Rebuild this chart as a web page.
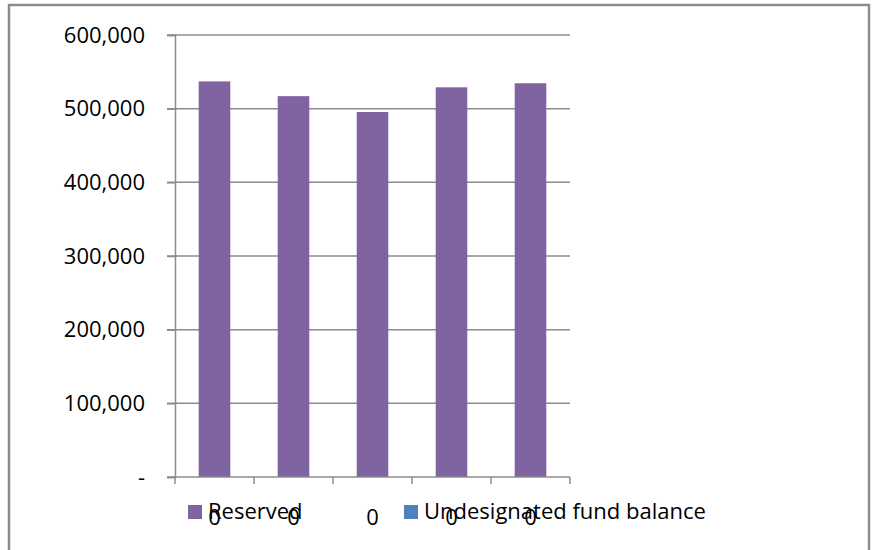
<!DOCTYPE html>
<html>
<head>
<meta charset="utf-8">
<script src="https://cdn.jsdelivr.net/npm/d3@7"></script>
<style>
  body { margin: 0; background: #fff; }
  text { font-family: "Open Sans", "Noto Sans", sans-serif; fill: #000; }
</style>
</head>
<body>
<div id="chart"></div>
<script>
// Data
const categories = ["0", "0", "0", "0", "0"];
const reserved = [537000, 517000, 495500, 529000, 534500];
const yTicks = [0, 100000, 200000, 300000, 400000, 500000, 600000];
const legendItems = ["Reserved", "Undesignated fund balance"];
const legendColors = ["#8064a2", "#4f81bd"];

const width = 874;
const height = 550;
const margin = { top: 35, bottom: 73, left: 175, right: 304 };

const svg = d3
  .select("#chart")
  .append("svg")
  .attr("width", width)
  .attr("height", height);

// outer frame
svg
  .append("rect")
  .attr("x", 9)
  .attr("y", 5)
  .attr("width", 860)
  .attr("height", 560)
  .attr("fill", "none")
  .attr("stroke", "#8c8c8c")
  .attr("stroke-width", 2.5);

const xScale = d3
  .scaleBand()
  .domain(d3.range(categories.length))
  .range([margin.left, width - margin.right])
  .paddingInner(0.6)
  .paddingOuter(0.3);

const yScale = d3
  .scaleLinear()
  .domain([0, 600000])
  .range([height - margin.bottom, margin.top]);

// gridlines
svg
  .append("g")
  .selectAll("line")
  .data(yTicks.slice(1))
  .enter()
  .append("line")
  .attr("x1", margin.left - 8)
  .attr("x2", width - margin.right)
  .attr("y1", (d) => yScale(d))
  .attr("y2", (d) => yScale(d))
  .attr("stroke", "#8c8c8c")
  .attr("stroke-width", 1.5);

// y axis
const yAxis = svg
  .append("g")
  .attr("transform", `translate(${margin.left}, 0)`)
  .call(
    d3
      .axisLeft(yScale)
      .tickValues(yTicks)
      .tickSize(8)
      .tickPadding(22)
      .tickFormat((d) => (d === 0 ? "-" : d3.format(",")(d)))
  );
yAxis.select(".domain").attr("stroke", "#8c8c8c").attr("stroke-width", 1.5);
yAxis.selectAll(".tick line").attr("stroke", "#8c8c8c").attr("stroke-width", 1.5);
yAxis
  .selectAll(".tick text")
  .attr("font-size", 22)
  .attr("font-family", "'Open Sans', 'Noto Sans', sans-serif");

// bars
svg
  .selectAll("rect.bar")
  .data(reserved)
  .enter()
  .append("rect")
  .attr("class", "bar")
  .attr("x", (d, i) => xScale(i))
  .attr("y", (d) => yScale(d))
  .attr("width", xScale.bandwidth())
  .attr("height", (d) => yScale(0) - yScale(d))
  .attr("fill", legendColors[0]);

// x axis
const x0 = yScale(0);
const step = xScale.step();
const xAxis = svg.append("g");
xAxis
  .append("line")
  .attr("x1", margin.left - 8)
  .attr("x2", width - margin.right)
  .attr("y1", x0)
  .attr("y2", x0)
  .attr("stroke", "#8c8c8c")
  .attr("stroke-width", 1.5);
xAxis
  .selectAll("line.tick")
  .data(d3.range(categories.length + 1))
  .enter()
  .append("line")
  .attr("class", "tick")
  .attr("x1", (d) => margin.left + d * step)
  .attr("x2", (d) => margin.left + d * step)
  .attr("y1", x0)
  .attr("y2", x0 + 7)
  .attr("stroke", "#8c8c8c")
  .attr("stroke-width", 1.5);
xAxis
  .selectAll("text")
  .data(categories)
  .enter()
  .append("text")
  .attr("x", (d, i) => xScale(i) + xScale.bandwidth() / 2)
  .attr("y", x0 + 48)
  .attr("text-anchor", "middle")
  .attr("font-size", 22)
  .text((d) => d);

// legend (overlaps the category labels, as in the original)
const legendX = [188, 404];
const legend = svg
  .selectAll("g.legend")
  .data(legendItems)
  .enter()
  .append("g")
  .attr("class", "legend")
  .attr("transform", (d, i) => `translate(${legendX[i]}, 505)`);
legend
  .append("rect")
  .attr("width", 14)
  .attr("height", 14)
  .attr("fill", (d, i) => legendColors[i]);
legend
  .append("text")
  .attr("x", 20)
  .attr("y", 14)
  .attr("font-size", 22)
  .text((d) => d);
</script>
</body>
</html>
